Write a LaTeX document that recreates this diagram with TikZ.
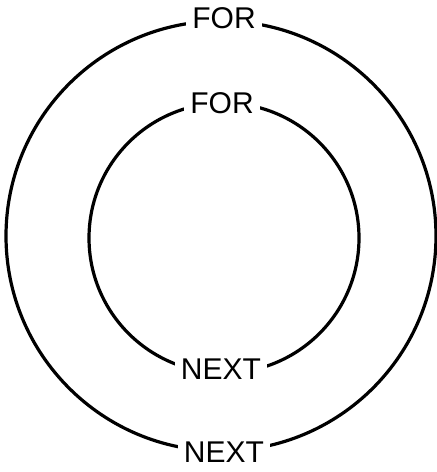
\documentclass[tikz,border=0pt]{standalone}
\usepackage{fontspec}
\setmainfont{Liberation Sans}
\usepackage{tikz}
\usetikzlibrary{positioning, calc}

\tikzset{
  loopring/.style={circle, draw, line width=3.2pt, inner sep=0pt},
  looplabel/.style={fill=white, inner xsep=6pt, inner ysep=2pt, font=\fontsize{30}{36}\selectfont}
}

\begin{document}
\begin{tikzpicture}[x=1pt, y=-1pt]

    % ==================== FRAME ====================
    \useasboundingbox (0,0) rectangle (437,472);

    % ==================== LOOP RINGS ====================
    % Outer loop
    \node [loopring, minimum size=430pt] (outer) at (221, 236) {};

    % Inner loop
    \node [loopring, minimum size=270pt] (inner) at (224, 238) {};


    % ==================== LABELS ====================
    % Outer FOR / NEXT
    \node [looplabel] (outerfor) at (224, 18) {FOR};
    \node [looplabel] (outernext) at (224, 452) {NEXT};

    % Inner FOR / NEXT
    \node [looplabel] (innerfor) at (222, 103) {FOR};
    \node [looplabel] (innernext) at (221, 369) {NEXT};

\end{tikzpicture}
\end{document}
